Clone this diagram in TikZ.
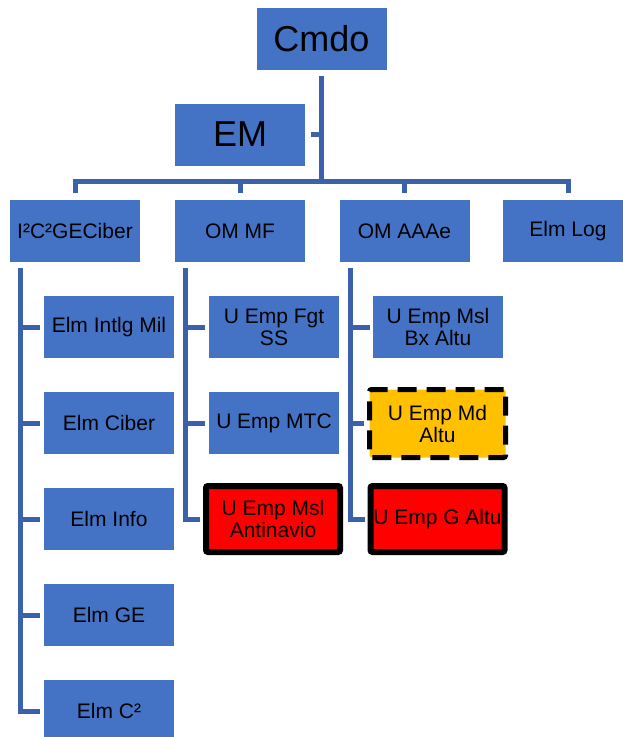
\documentclass[tikz,border=0pt]{standalone}
\usepackage{fontspec}
\setmainfont{Liberation Sans}
\usepackage{tikz}

\definecolor{boxblue}{HTML}{4472C4}
\definecolor{lineblue}{HTML}{3B61AB}
\definecolor{warnyellow}{HTML}{FFC000}

\tikzset{
  unit/.style={rectangle, fill=boxblue, minimum width=130pt, minimum height=62pt,
    inner sep=0pt, align=center, font=\fontsize{21}{22}\selectfont},
  bigunit/.style={unit, font=\fontsize{36}{38}\selectfont},
  lost/.style={unit, fill=red, draw=black, line width=6pt, rounded corners=2pt,
    minimum width=134pt, minimum height=66pt},
  degraded/.style={unit, fill=warnyellow, draw=black, line width=5pt, rounded corners=2pt,
    dash pattern=on 19pt off 10pt, minimum width=136pt, minimum height=68pt},
  link/.style={draw=lineblue, line width=5pt}
}

\begin{document}
\begin{tikzpicture}[x=1pt,y=-1pt]
  \clip (0,0) rectangle (623,737);
  % command and staff
  \node[bigunit] (cmdo) at (321.5,38.5) {Cmdo};
  \node[bigunit] (em) at (240,134.5) {EM};
  \coordinate (bar) at (0,181);
  % second level
  \node[unit] (ciber) at (75,231) {I²C²GECiber};
  \node[unit] (ommf) at (240,231) {OM MF};
  \node[unit] (omaaae) at (404.5,231) {OM AAAe};
  \node[unit] (log) at (568,231) {Elm Log};
  % elements under I2C2GECiber
  \node[unit] (intlg) at (109,327) {Elm Intlg Mil};
  \node[unit] (elmciber) at (109,423) {Elm Ciber};
  \node[unit] (info) at (109,519) {Elm Info};
  \node[unit] (ge) at (109,615) {Elm GE};
  \node[unit] (cc) at (109,711) {Elm C²};
  % units under OM MF
  \node[unit] (fgt) at (274,327) {U Emp Fgt\\SS};
  \node[unit] (mtc) at (274,423) {U Emp MTC};
  \node[lost] (antinavio) at (273,519) {U Emp Msl\\Antinavio};
  % units under OM AAAe
  \node[unit] (bxaltu) at (438,327) {U Emp Msl\\Bx Altu};
  \node[degraded] (mdaltu) at (437.5,423.5) {U Emp Md\\Altu};
  \node[lost] (galtu) at (437.5,519) {U Emp G Altu};

  \draw[link] ([yshift=-6pt]cmdo.south) -- (cmdo.south |- bar);
  \draw[link] ([xshift=6pt]em.east) -- (em.east -| cmdo.south);
  \draw[link] ([yshift=7pt]ciber.north) |- (bar -| log.north) -- ([yshift=7pt]log.north);
  \draw[link] ([yshift=7pt]ommf.north) -- (ommf.north |- bar);
  \draw[link] ([yshift=7pt]omaaae.north) -- (omaaae.north |- bar);

  \coordinate (spinea) at (20,268);
  \coordinate (spineb) at (185,268);
  \coordinate (spinec) at (350,268);
  \foreach \n in {intlg,elmciber,info,ge,cc}
    \draw[link] (spinea) |- ([xshift=-4pt]\n.west);
  \foreach \n in {fgt,mtc}
    \draw[link] (spineb) |- ([xshift=-4pt]\n.west);
  \draw[link] (spineb) |- ([xshift=-3pt]antinavio.west);
  \draw[link] (spinec) |- ([xshift=-3pt]bxaltu.west);
  \foreach \n in {mdaltu,galtu}
    \draw[link] (spinec) |- ([xshift=-3pt]\n.west);
\end{tikzpicture}
\end{document}
